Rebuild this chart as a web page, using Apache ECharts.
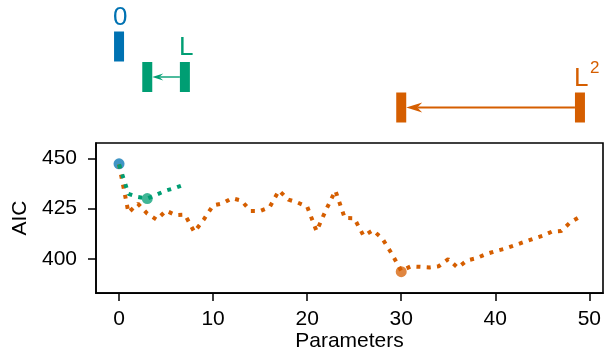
<!DOCTYPE html>
<html>
<head>
<meta charset="utf-8">
<script src="https://cdn.jsdelivr.net/npm/echarts@6/dist/echarts.min.js"></script>
<style>
html,body{margin:0;padding:0;background:#fff;}
#chart{width:606px;height:353px;}
</style>
</head>
<body>
<div id="chart"></div>
<script>
// ---- data ----
const paramsL2 = [0,1,2,3,4,5,6,7,8,9,10,11,12,13,14,15,16,17,18,19,20,21,22,23,24,25,26,27,28,29,30,31,32,33,34,35,36,37,38,39,40,41,42,43,44,45,46,47,48,49];
const aicL2 = [447,423,427.5,422.5,419.5,424,421.8,422,413.4,419.5,426.6,427.6,430.2,429,423.8,423.8,425.7,434,429.5,428,426,413.8,424.3,434,420.3,420.2,411.4,414.2,410,402.5,394,396.2,396,395.7,396.3,399.8,395.6,399.2,400.3,402.3,403.8,405,406.6,408.3,409.9,411.4,413.5,413.8,418.3,421];
const paramsL = [0,1,2,3,4,5,6,7];
const aicL = [447,432.3,430.8,430,432,434,435.4,437.1];
const selParams = [0,3,30];
const selAIC = [447.3,430,393.6];
const annotLabels = ['0','L','L\u00B2'];
const annotFrom = [0,7,49];
const annotTo = [0,3,30];
const annotRow = [0,1,2];
const xTicks = [0,10,20,30,40,50];
const yTicks = [400,425,450];
const xName = 'Parameters';
const yName = 'AIC';

// ---- styles ----
const COLORS = ['#0072B2','#009E73','#D55E00'];
const FONT = 'Liberation Sans, Arial, Helvetica, sans-serif';
const XMIN = -2.45, XMAX = 51.45;

const chart = echarts.init(document.getElementById('chart'), null, {renderer:'canvas'});

const selData = selParams.map((x,i)=>({value:[x, selAIC[i]], itemStyle:{color:COLORS[i], opacity:0.75}}));
const annotData = annotFrom.map((f,i)=>[f, annotTo[i], annotRow[i]]);

function renderAnnot(params, api){
  const i = params.dataIndex;
  const from = api.value(0), to = api.value(1), row = api.value(2);
  const pF = api.coord([from,row]);
  const pT = api.coord([to,row]);
  const col = COLORS[i];
  const bw = 10, bh = 30;
  const ch = [];
  ch.push({type:'rect', shape:{x:pT[0]-bw/2, y:pT[1]-bh/2, width:bw, height:bh}, style:{fill:col}});
  if (from !== to) {
    ch.push({type:'rect', shape:{x:pF[0]-bw/2, y:pF[1]-bh/2, width:bw, height:bh}, style:{fill:col}});
    const small = (i === 1);
    const hl = small ? 11 : 16, hw = small ? 3.5 : 5, notch = small ? 7 : 11, lw = small ? 1.4 : 2;
    const y = pT[1];
    const xs = pF[0]-bw/2, xe = pT[0]+bw/2;
    ch.push({type:'line', shape:{x1:xs, y1:y, x2:xe+notch, y2:y}, style:{stroke:col, lineWidth:lw}});
    ch.push({type:'polygon', shape:{points:[[xe,y],[xe+hl,y-hw],[xe+notch,y],[xe+hl,y+hw]]}, style:{fill:col}});
  }
  const lbl = annotLabels[i];
  const base = lbl.charAt(0);
  const sup = lbl.length > 1 ? '2' : '';
  const tx = pF[0]-bw/2-1;
  const ty = pF[1]-bh/2-14;
  ch.push({type:'text', style:{text:base, x:tx, y:ty, align:'left', verticalAlign:'middle', font:'26px '+FONT, fill:col}});
  if (sup) {
    ch.push({type:'text', style:{text:sup, x:tx+16, y:ty-10, align:'left', verticalAlign:'middle', font:'17px '+FONT, fill:col}});
  }
  return {type:'group', children:ch};
}

const option = {
  animation:false,
  backgroundColor:'#fff',
  grid:[
    {left:96, right:3, top:143, height:151, show:true, borderColor:'#000', borderWidth:1.6, backgroundColor:'transparent'},
    {left:96, right:3, top:16, height:122, show:false}
  ],
  xAxis:[
    {type:'value', gridIndex:0, min:XMIN, max:XMAX, name:xName, nameLocation:'middle', nameGap:36,
     nameTextStyle:{fontSize:21, color:'#000', fontFamily:FONT},
     axisLine:{show:true, onZero:false, lineStyle:{color:'#000', width:1.6}},
     axisTick:{show:true, length:8, lineStyle:{color:'#000', width:1.5}, customValues:xTicks},
     axisLabel:{customValues:xTicks, fontSize:21, color:'#000', fontFamily:FONT, margin:16},
     splitLine:{show:false}},
    {type:'value', gridIndex:1, min:XMIN, max:XMAX, show:false}
  ],
  yAxis:[
    {type:'value', gridIndex:0, min:382.9, max:457.7, name:yName, nameLocation:'middle', nameGap:61,
     nameTextStyle:{fontSize:21, color:'#000', fontFamily:FONT},
     axisLine:{show:true, onZero:false, lineStyle:{color:'#000', width:1.6}},
     axisTick:{show:true, length:8, lineStyle:{color:'#000', width:1.5}, customValues:yTicks},
     axisLabel:{customValues:yTicks, fontSize:21, color:'#000', fontFamily:FONT, margin:19},
     splitLine:{show:false}},
    {type:'value', gridIndex:1, min:-1, max:3, inverse:true, show:false}
  ],
  series:[
    {type:'scatter', xAxisIndex:0, yAxisIndex:0, symbol:'circle', symbolSize:11, data:selData, z:1},
    {type:'line', xAxisIndex:0, yAxisIndex:0, data:paramsL2.map((x,i)=>[x, aicL2[i]]), showSymbol:false, symbol:'none',
     lineStyle:{color:COLORS[2], width:4, type:[4,6.3], cap:'butt'}, z:3},
    {type:'line', xAxisIndex:0, yAxisIndex:0, data:paramsL.map((x,i)=>[x, aicL[i]]), showSymbol:false, symbol:'none',
     lineStyle:{color:COLORS[1], width:4, type:[4,6.3], cap:'butt'}, z:4},
    {type:'custom', xAxisIndex:1, yAxisIndex:1, renderItem:renderAnnot, data:annotData, clip:false, z:5}
  ]
};
chart.setOption(option);
</script>
</body>
</html>
